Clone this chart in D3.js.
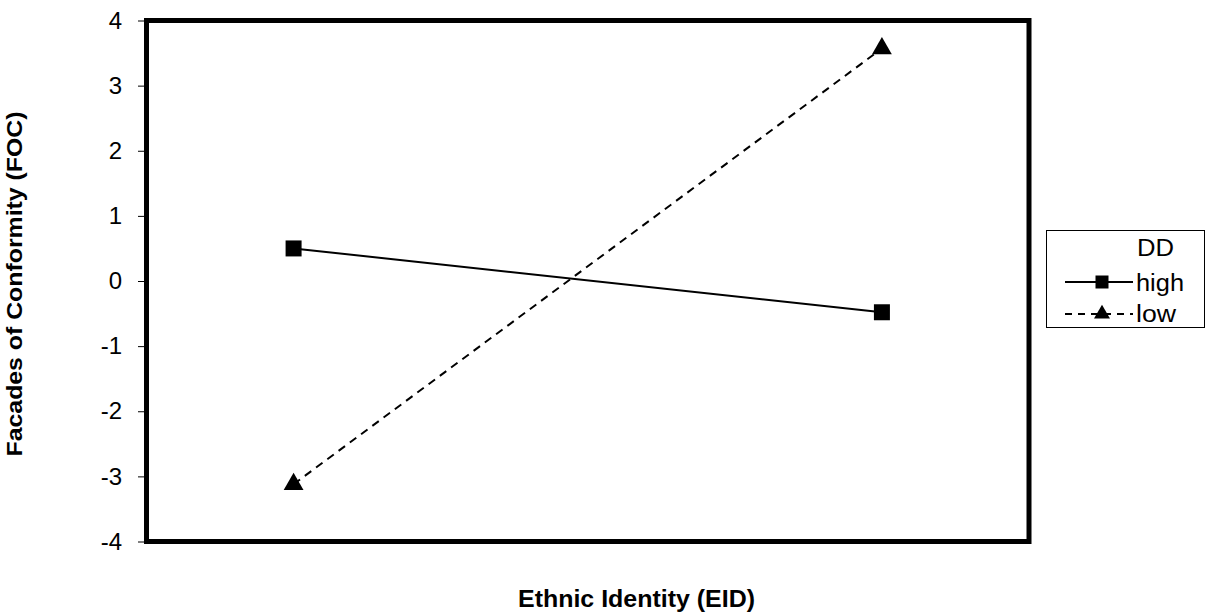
<!DOCTYPE html>
<html>
<head>
<meta charset="utf-8">
<script src="https://cdn.jsdelivr.net/npm/d3@7"></script>
<style>
  html, body { margin: 0; padding: 0; background: #fff; }
  svg { display: block; font-family: Arial, "Liberation Sans", sans-serif; }
</style>
</head>
<body>
<svg id="chart" width="1210" height="613"></svg>
<script>
// ---- data ----
const categories = ["Low EID", "High EID"];
const seriesNames = ["high", "low"];
const highValues = [0.50, -0.48];
const lowValues = [-3.12, 3.57];
const yTickValues = [-4, -3, -2, -1, 0, 1, 2, 3, 4];
const legendTitle = "DD";
const xTitle = "Ethnic Identity (EID)";
const yTitle = "Facades of Conformity (FOC)";

// ---- layout ----
const svg = d3.select("#chart");
const frame = { left: 146.5, right: 1029, top: 20.5, bottom: 541.5 };

const x = d3.scalePoint().domain(categories).range([frame.left, frame.right]).padding(0.25);
const y = d3.scaleLinear().domain([-4, 4]).range([frame.bottom, frame.top]);

// y axis
const yAxis = d3.axisLeft(y).tickValues(yTickValues).tickSize(6).tickPadding(16)
  .tickFormat(d3.format("d"));
const gy = svg.append("g").attr("transform", `translate(${frame.left - 2.5},0)`).call(yAxis);
gy.select(".domain").remove();
gy.selectAll(".tick line").attr("stroke", "#000").attr("stroke-width", 1);
gy.selectAll(".tick text").attr("font-size", 24).attr("fill", "#000")
  .attr("font-family", "Arial, 'Liberation Sans', sans-serif")
  .text(d => d < 0 ? "-" + Math.abs(d) : d);

// frame
svg.append("rect")
  .attr("x", frame.left).attr("y", frame.top)
  .attr("width", frame.right - frame.left).attr("height", frame.bottom - frame.top)
  .attr("fill", "none").attr("stroke", "#000").attr("stroke-width", 5);

// series
const series = [
  { name: seriesNames[0], values: highValues, dash: null, marker: "square" },
  { name: seriesNames[1], values: lowValues, dash: "8,6", marker: "triangle" }
];
const line = d3.line().x((d, i) => x(categories[i])).y(d => y(d));

series.forEach(s => {
  svg.append("path").datum(s.values)
    .attr("d", line).attr("fill", "none").attr("stroke", "#000").attr("stroke-width", 2)
    .attr("stroke-dasharray", s.dash);
  svg.selectAll(null).data(s.values).enter().append("path")
    .attr("transform", (d, i) => `translate(${x(categories[i])},${y(d)})`)
    .attr("d", d3.symbol().type(s.marker === "square" ? d3.symbolSquare : d3.symbolTriangle)
      .size(s.marker === "square" ? 256 : 170))
    .attr("fill", "#000");
});

// axis titles
svg.append("text").attr("x", 636.5).attr("y", 607).attr("text-anchor", "middle")
  .attr("font-size", 23).attr("font-weight", "bold").attr("fill", "#000")
  .attr("textLength", 237).attr("lengthAdjust", "spacingAndGlyphs").text(xTitle);
svg.append("text").attr("transform", "translate(22,284) rotate(-90)").attr("text-anchor", "middle")
  .attr("font-size", 22).attr("font-weight", "bold").attr("fill", "#000")
  .attr("textLength", 345).attr("lengthAdjust", "spacingAndGlyphs").text(yTitle);

// legend
const lg = svg.append("g");
lg.append("rect").attr("x", 1046.5).attr("y", 230.5).attr("width", 158).attr("height", 97)
  .attr("fill", "#fff").attr("stroke", "#000").attr("stroke-width", 1);
lg.append("text").attr("x", 1137).attr("y", 256).attr("font-size", 23).attr("fill", "#000")
  .attr("textLength", 37).attr("lengthAdjust", "spacingAndGlyphs").text(legendTitle);
const legendRows = [
  { s: series[0], y: 282, ty: 291, w: 48 },
  { s: series[1], y: 314, ty: 322, w: 40 }
];
legendRows.forEach(r => {
  lg.append("line").attr("x1", 1065).attr("x2", 1133).attr("y1", r.y).attr("y2", r.y)
    .attr("stroke", "#000").attr("stroke-width", 2).attr("stroke-dasharray", r.s.dash ? "7,6" : null);
  lg.append("path").attr("transform", `translate(1102,${r.y})`)
    .attr("d", d3.symbol().type(r.s.marker === "square" ? d3.symbolSquare : d3.symbolTriangle)
      .size(r.s.marker === "square" ? 169 : 110))
    .attr("fill", "#000");
  lg.append("text").attr("x", 1136).attr("y", r.ty).attr("font-size", 23).attr("fill", "#000")
    .attr("textLength", r.w).attr("lengthAdjust", "spacingAndGlyphs").text(r.s.name);
});
</script>
</body>
</html>
